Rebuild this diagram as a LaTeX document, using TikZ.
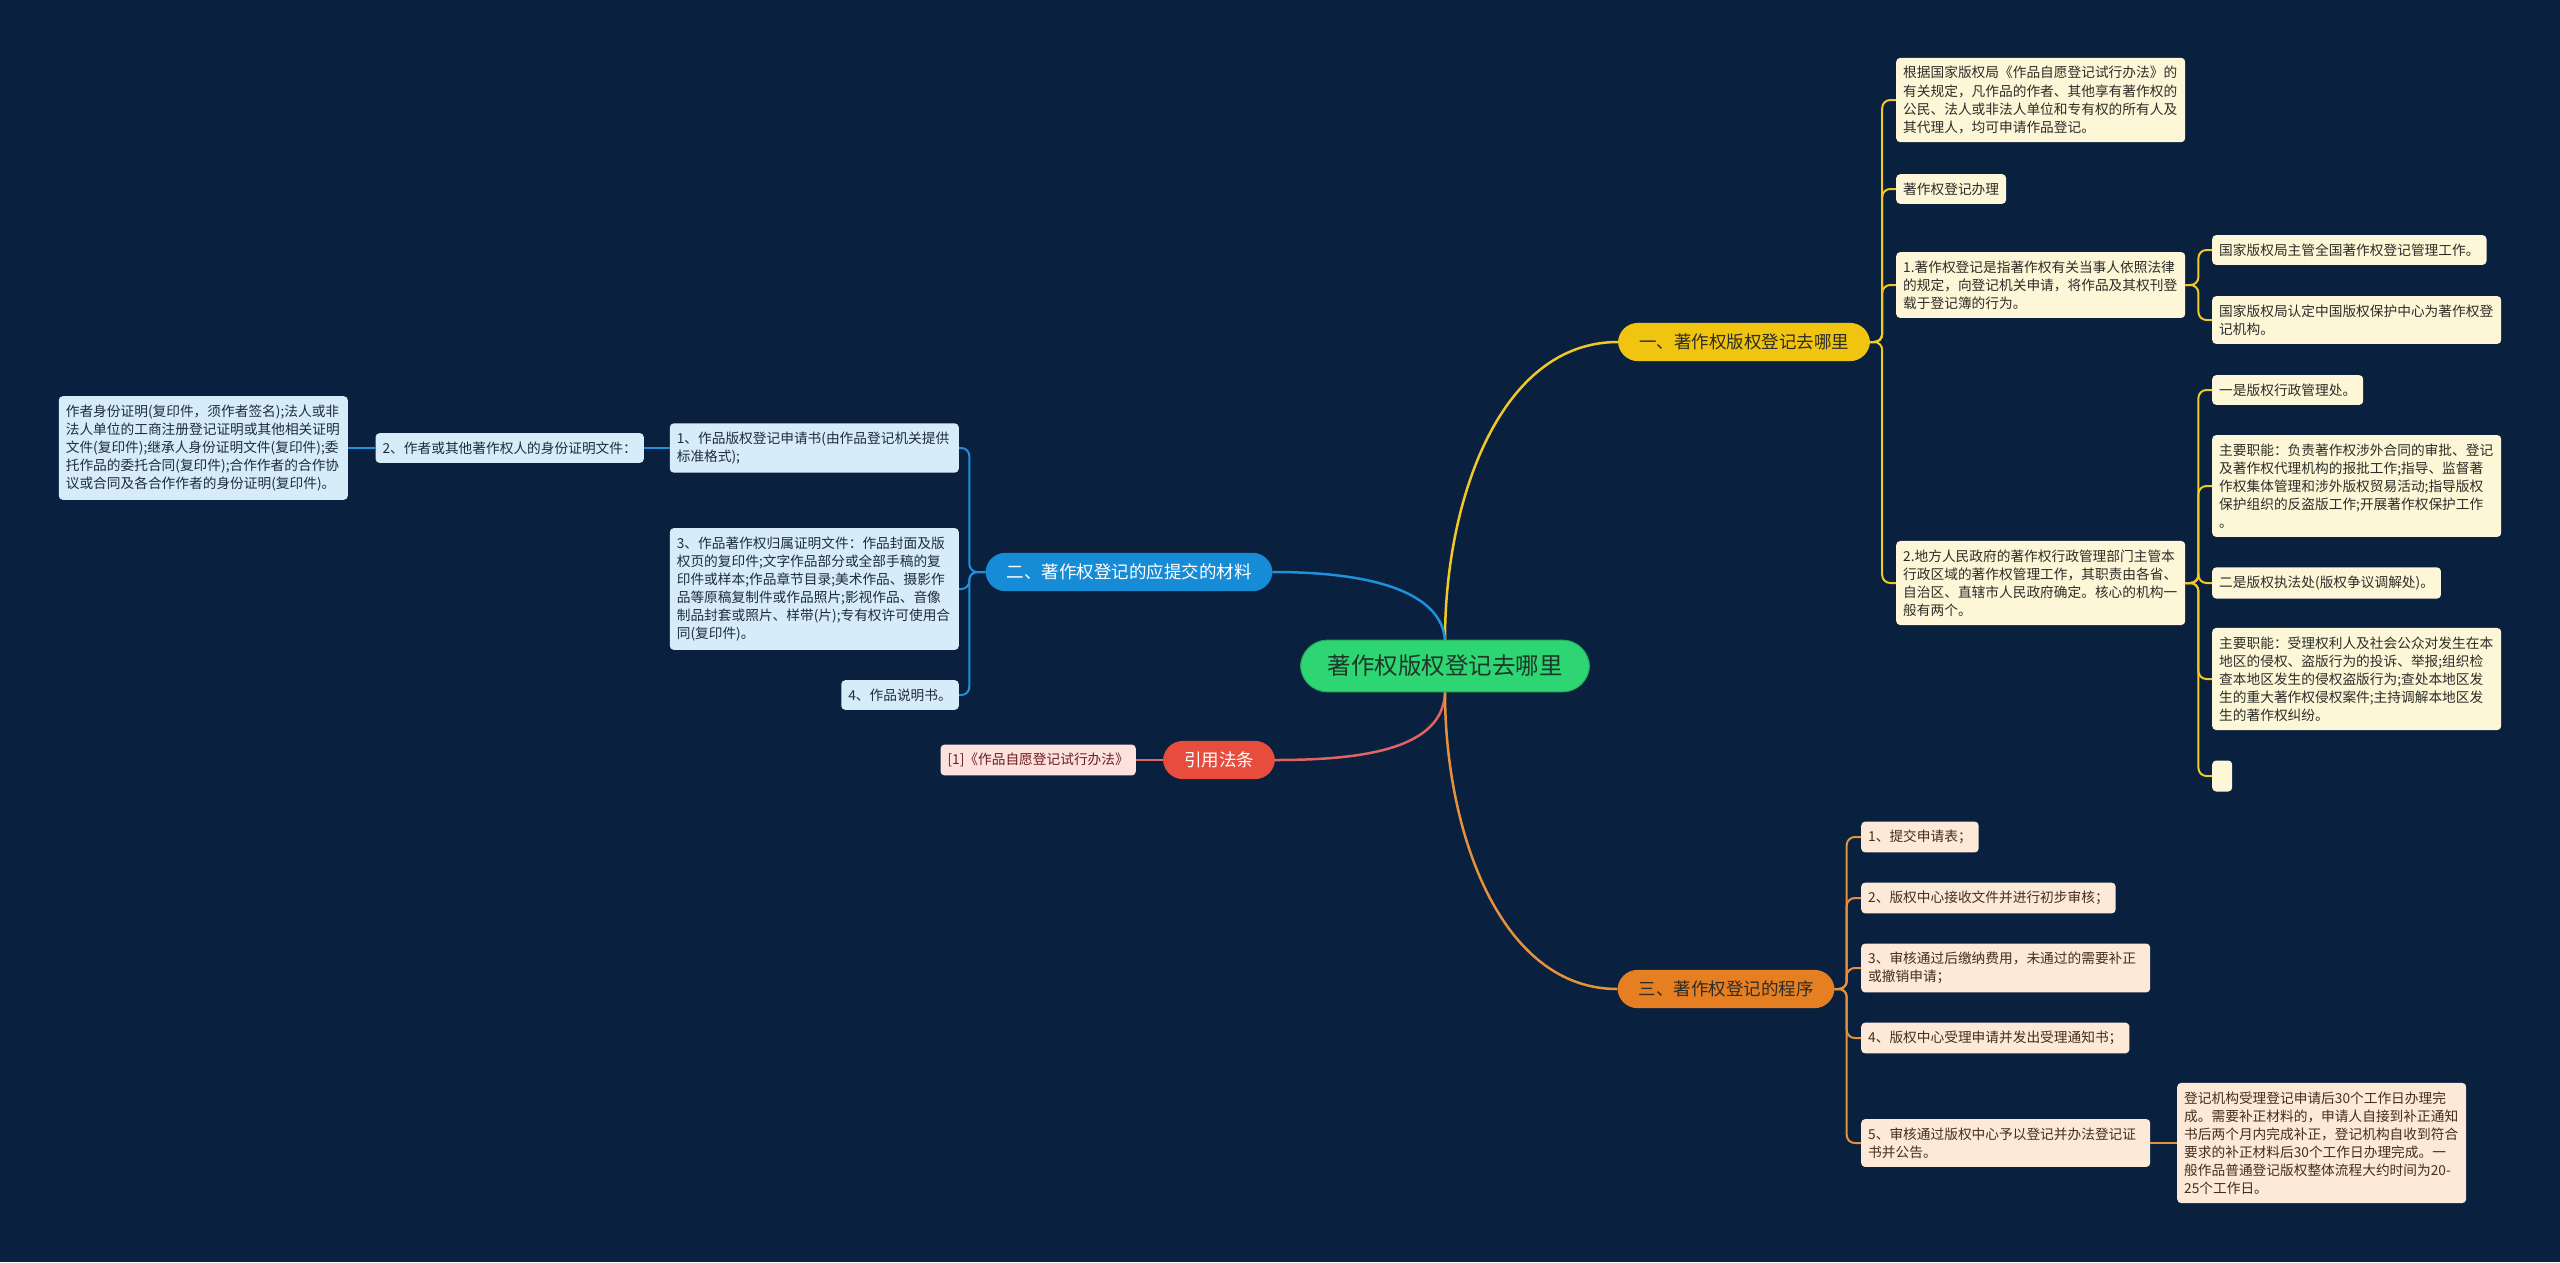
\documentclass[tikz,border=0pt]{standalone}
\usepackage{fontspec}
\setmainfont{Noto Sans CJK SC}
\usepackage{xcolor}
\usepackage{tikz}
\usetikzlibrary{positioning}

\definecolor{bgnavy}{RGB}{9,33,62}
\definecolor{rootgreen}{RGB}{46,213,115}
\definecolor{yelbranch}{RGB}{241,196,15}
\definecolor{bluebranch}{RGB}{23,140,214}
\definecolor{redbranch}{RGB}{231,76,60}
\definecolor{orgbranch}{RGB}{230,126,34}
\definecolor{yelleaf}{RGB}{253,246,215}
\definecolor{blueleaf}{RGB}{214,236,248}
\definecolor{orgleaf}{RGB}{252,233,216}
\definecolor{redleaf}{RGB}{252,225,222}
\definecolor{yelline}{RGB}{240,200,40}
\definecolor{blueline}{RGB}{30,144,220}
\definecolor{redline}{RGB}{225,100,100}
\definecolor{orgline}{RGB}{230,145,60}
\definecolor{darkink}{RGB}{45,45,40}

\begin{document}
\begin{tikzpicture}[
    x=1pt, y=-1pt,
    every node/.style={text=darkink},
    pill/.style={inner xsep=21pt, inner ysep=11pt, rounded corners=20pt,
        font=\fontsize{17.5}{20}\selectfont},
    leaf/.style={inner xsep=7pt, inner ysep=8.5pt, rounded corners=4pt, align=left,
        font=\fontsize{13.7}{18.1}\selectfont},
    widebox/.style={text width=275pt},
    yleaf/.style={leaf, fill=yelleaf, anchor=west},
    bleaf/.style={leaf, fill=blueleaf, anchor=east, text={rgb,255:red,30;green,45;blue,60}},
    oleaf/.style={leaf, fill=orgleaf, anchor=west, text={rgb,255:red,70;green,45;blue,30}},
    yline/.style={draw=yelline, line width=2pt, rounded corners=8pt},
    bline/.style={draw=blueline, line width=2pt, rounded corners=8pt},
    oline/.style={draw=orgline, line width=2pt, rounded corners=8pt},
    rline/.style={draw=redline, line width=2pt}
]
\fill[bgnavy] (0,0) rectangle (2560,1262);
\useasboundingbox (0,0) rectangle (2560,1262);

% Root and main branches
\node[fill=rootgreen, draw=rootgreen!80!black, line width=1pt, rounded corners=27pt,
    inner xsep=27pt, inner ysep=15pt,
    font=\fontsize{23.5}{26}\selectfont, text={rgb,255:red,30;green,55;blue,40}]
    (root) at (1445,666) {著作权版权登记去哪里};
\node[pill, fill=yelbranch] (yb) at (1744,342) {一、著作权版权登记去哪里};
\node[pill, fill=bluebranch, text=white] (bb) at (1129,572) {二、著作权登记的应提交的材料};
\node[pill, fill=redbranch, text=white] (rb) at (1219,760) {引用法条};
\node[pill, fill=orgbranch] (ob) at (1726,989) {三、著作权登记的程序};

\draw[yelline, line width=2.5pt] (root.north) .. controls (1445,500) and (1500,342) .. (yb.west);
\draw[blueline, line width=2.5pt] (root.north) .. controls (1441,595) and (1380,572) .. (bb.east);
\draw[redline, line width=2.5pt] (root.south) .. controls (1443,750) and (1360,760) .. (rb.east);
\draw[orgline, line width=2.5pt] (root.south) .. controls (1445,831) and (1500,989) .. (ob.west);

% Branch one
\node[yleaf, widebox] (y1) at (1896,100) {根据国家版权局《作品自愿登记试行办法》的\\有关规定，凡作品的作者、其他享有著作权的\\公民、法人或非法人单位和专有权的所有人及\\其代理人，均可申请作品登记。};
\node[yleaf] (y2) at (1896,189) {著作权登记办理};
\node[yleaf, widebox] (y3) at (1896,285) {1.著作权登记是指著作权有关当事人依照法律\\的规定，向登记机关申请，将作品及其权刊登\\载于登记簿的行为。};
\node[yleaf, widebox] (y4) at (1896,583) {2.地方人民政府的著作权行政管理部门主管本\\行政区域的著作权管理工作，其职责由各省、\\自治区、直辖市人民政府确定。核心的机构一\\般有两个。};
\node[yleaf] (y3a) at (2212,250) {国家版权局主管全国著作权登记管理工作。};
\node[yleaf, widebox] (y3b) at (2212,320) {国家版权局认定中国版权保护中心为著作权登\\记机构。};
\node[yleaf] (y4a) at (2212,390) {一是版权行政管理处。};
\node[yleaf, widebox] (y4b) at (2212,486) {主要职能：负责著作权涉外合同的审批、登记\\及著作权代理机构的报批工作;指导、监督著\\作权集体管理和涉外版权贸易活动;指导版权\\保护组织的反盗版工作;开展著作权保护工作\\。};
\node[yleaf] (y4c) at (2212,583) {二是版权执法处(版权争议调解处)。};
\node[yleaf, widebox] (y4d) at (2212,679) {主要职能：受理权利人及社会公众对发生在本\\地区的侵权、盗版行为的投诉、举报;组织检\\查本地区发生的侵权盗版行为;查处本地区发\\生的重大著作权侵权案件;主持调解本地区发\\生的著作权纠纷。};
\node[yleaf, minimum width=20pt, minimum height=31pt] (y4e) at (2212,776) {};

\foreach \n in {y1, y2, y3, y4}
    \draw[yline] (yb.east) -- ++(12,0) |- (\n.west);
\foreach \n in {y3a, y3b}
    \draw[yline] (y3.east) -- ++(13,0) |- (\n.west);
\foreach \n in {y4a, y4b, y4c, y4d, y4e}
    \draw[yline] (y4.east) -- ++(13,0) |- (\n.west);

% Branch two
\node[bleaf, widebox] (b1) at (959,448) {1、作品版权登记申请书(由作品登记机关提供\\标准格式);};
\node[bleaf, widebox] (b3) at (959,589) {3、作品著作权归属证明文件：作品封面及版\\权页的复印件;文字作品部分或全部手稿的复\\印件或样本;作品章节目录;美术作品、摄影作\\品等原稿复制件或作品照片;影视作品、音像\\制品封套或照片、样带(片);专有权许可使用合\\同(复印件)。};
\node[bleaf] (b4) at (959,695) {4、作品说明书。};
\node[bleaf] (b2) at (644,448) {2、作者或其他著作权人的身份证明文件：};
\node[bleaf, widebox] (b2a) at (348,448) {作者身份证明(复印件，须作者签名);法人或非\\法人单位的工商注册登记证明或其他相关证明\\文件(复印件);继承人身份证明文件(复印件);委\\托作品的委托合同(复印件);合作作者的合作协\\议或合同及各合作作者的身份证明(复印件)。};

\foreach \n in {b1, b3, b4}
    \draw[bline] (bb.west) -- ++(-16,0) |- (\n.east);
\draw[bline] (b1.west) -- (b2.east);
\draw[bline] (b2.west) -- (b2a.east);

% Cited law
\node[leaf, fill=redleaf, anchor=east, text={rgb,255:red,110;green,30;blue,30}] (r1) at (1136,760) {[1]《作品自愿登记试行办法》};
\draw[rline] (rb.west) -- (r1.east);

% Branch three
\node[oleaf] (o1) at (1861,837) {1、提交申请表；};
\node[oleaf] (o2) at (1861,898) {2、版权中心接收文件并进行初步审核；};
\node[oleaf, widebox] (o3) at (1861,968) {3、审核通过后缴纳费用，未通过的需要补正\\或撤销申请；};
\node[oleaf] (o4) at (1861,1038) {4、版权中心受理申请并发出受理通知书；};
\node[oleaf, widebox] (o5) at (1861,1143) {5、审核通过版权中心予以登记并办法登记证\\书并公告。};
\node[oleaf, widebox] (o5a) at (2177,1143) {登记机构受理登记申请后30个工作日办理完\\成。需要补正材料的，申请人自接到补正通知\\书后两个月内完成补正，登记机构自收到符合\\要求的补正材料后30个工作日办理完成。一\\般作品普通登记版权整体流程大约时间为20-\\25个工作日。};

\foreach \n in {o1, o2, o3, o4, o5}
    \draw[oline] (ob.east) -- ++(12,0) |- (\n.west);
\draw[oline] (o5.east) -- (o5a.west);
\end{tikzpicture}
\end{document}
